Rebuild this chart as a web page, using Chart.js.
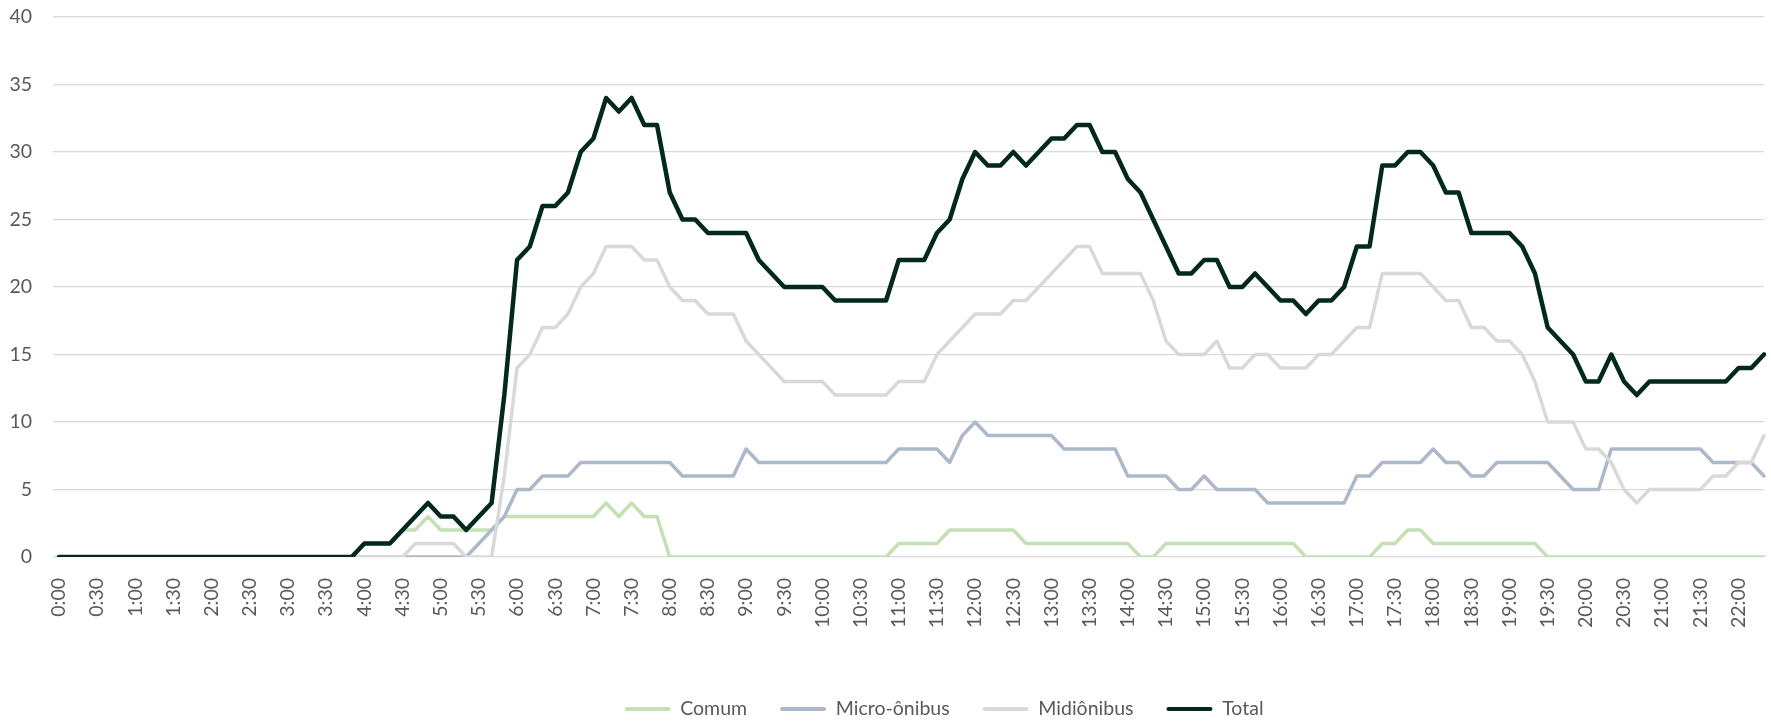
<!DOCTYPE html>
<html>
<head>
<meta charset="utf-8">
<script src="https://cdn.jsdelivr.net/npm/chart.js@4.4.0/dist/chart.umd.min.js"></script>
<style>
  html, body { margin: 0; padding: 0; background: #fff; }
</style>
</head>
<body>
<canvas id="chart" width="1771" height="724"></canvas>
<script>
// categories: every 10 minutes from 0:00 to 22:20, a label shown every 30 minutes
const categories = [];
for (let m = 0; m <= 22 * 60 + 20; m += 10) {
  categories.push(Math.floor(m / 60) + ':' + String(m % 60).padStart(2, '0'));
}
const labelEvery = 3;

const seriesNames = ['Comum', 'Micro-ônibus', 'Midiônibus', 'Total'];

// one row per hour (6 values of 10 minutes)
const comum = [
  0, 0, 0, 0, 0, 0,
  0, 0, 0, 0, 0, 0,
  0, 0, 0, 0, 0, 0,
  0, 0, 0, 0, 0, 0,
  1, 1, 1, 2, 2, 3,
  2, 2, 2, 2, 2, 3,
  3, 3, 3, 3, 3, 3,
  3, 4, 3, 4, 3, 3,
  0, 0, 0, 0, 0, 0,
  0, 0, 0, 0, 0, 0,
  0, 0, 0, 0, 0, 0,
  1, 1, 1, 1, 2, 2,
  2, 2, 2, 2, 1, 1,
  1, 1, 1, 1, 1, 1,
  1, 0, 0, 1, 1, 1,
  1, 1, 1, 1, 1, 1,
  1, 1, 0, 0, 0, 0,
  0, 0, 1, 1, 2, 2,
  1, 1, 1, 1, 1, 1,
  1, 1, 1, 0, 0, 0,
  0, 0, 0, 0, 0, 0,
  0, 0, 0, 0, 0, 0,
  0, 0, 0
];

const micro = [
  0, 0, 0, 0, 0, 0,
  0, 0, 0, 0, 0, 0,
  0, 0, 0, 0, 0, 0,
  0, 0, 0, 0, 0, 0,
  0, 0, 0, 0, 0, 0,
  0, 0, 0, 1, 2, 3,
  5, 5, 6, 6, 6, 7,
  7, 7, 7, 7, 7, 7,
  7, 6, 6, 6, 6, 6,
  8, 7, 7, 7, 7, 7,
  7, 7, 7, 7, 7, 7,
  8, 8, 8, 8, 7, 9,
  10, 9, 9, 9, 9, 9,
  9, 8, 8, 8, 8, 8,
  6, 6, 6, 6, 5, 5,
  6, 5, 5, 5, 5, 4,
  4, 4, 4, 4, 4, 4,
  6, 6, 7, 7, 7, 7,
  8, 7, 7, 6, 6, 7,
  7, 7, 7, 7, 6, 5,
  5, 5, 8, 8, 8, 8,
  8, 8, 8, 8, 7, 7,
  7, 7, 6
];

const midi = [
  0, 0, 0, 0, 0, 0,
  0, 0, 0, 0, 0, 0,
  0, 0, 0, 0, 0, 0,
  0, 0, 0, 0, 0, 0,
  0, 0, 0, 0, 1, 1,
  1, 1, 0, 0, 0, 6,
  14, 15, 17, 17, 18, 20,
  21, 23, 23, 23, 22, 22,
  20, 19, 19, 18, 18, 18,
  16, 15, 14, 13, 13, 13,
  13, 12, 12, 12, 12, 12,
  13, 13, 13, 15, 16, 17,
  18, 18, 18, 19, 19, 20,
  21, 22, 23, 23, 21, 21,
  21, 21, 19, 16, 15, 15,
  15, 16, 14, 14, 15, 15,
  14, 14, 14, 15, 15, 16,
  17, 17, 21, 21, 21, 21,
  20, 19, 19, 17, 17, 16,
  16, 15, 13, 10, 10, 10,
  8, 8, 7, 5, 4, 5,
  5, 5, 5, 5, 6, 6,
  7, 7, 9
];

const total = [
  0, 0, 0, 0, 0, 0,
  0, 0, 0, 0, 0, 0,
  0, 0, 0, 0, 0, 0,
  0, 0, 0, 0, 0, 0,
  1, 1, 1, 2, 3, 4,
  3, 3, 2, 3, 4, 12,
  22, 23, 26, 26, 27, 30,
  31, 34, 33, 34, 32, 32,
  27, 25, 25, 24, 24, 24,
  24, 22, 21, 20, 20, 20,
  20, 19, 19, 19, 19, 19,
  22, 22, 22, 24, 25, 28,
  30, 29, 29, 30, 29, 30,
  31, 31, 32, 32, 30, 30,
  28, 27, 25, 23, 21, 21,
  22, 22, 20, 20, 21, 20,
  19, 19, 18, 19, 19, 20,
  23, 23, 29, 29, 30, 30,
  29, 27, 27, 24, 24, 24,
  24, 23, 21, 17, 16, 15,
  13, 13, 15, 13, 12, 13,
  13, 13, 13, 13, 13, 13,
  14, 14, 15
];

const yTicks = { min: 0, max: 40, step: 5 };

const colors = ['#c5e0b4', '#adb9ca', '#d9d9d9', '#03291f'];
const widths = [3.5, 3.5, 3.5, 4.5];
const values = [comum, micro, midi, total];

Chart.defaults.font.family = 'Lato';
Chart.defaults.font.size = 19.5;
Chart.defaults.color = '#595959';

// move the legend to where the original puts it
const legendShift = {
  id: 'legendShift',
  afterLayout(chart) {
    const lg = chart.legend;
    lg.left += 62; lg.right += 62;
    lg.top += 4.75; lg.bottom += 4.75;
  }
};

new Chart(document.getElementById('chart'), {
  type: 'line',
  data: {
    labels: categories,
    datasets: seriesNames.map((name, i) => ({
      label: name,
      data: values[i],
      borderColor: colors[i],
      backgroundColor: colors[i],
      borderWidth: widths[i],
      pointRadius: 0,
      tension: 0,
      borderJoinStyle: 'round',
      borderCapStyle: 'round',
      order: 3 - i
    }))
  },
  options: {
    responsive: false,
    animation: false,
    devicePixelRatio: 1,
    layout: { padding: { top: 17, right: 7, left: 0, bottom: 0 } },
    plugins: {
      tooltip: { enabled: false },
      legend: {
        position: 'bottom',
        labels: {
          boxWidth: 46,
          boxHeight: 4,
          padding: 33,
          useBorderRadius: true,
          borderRadius: 2,
          sort: (a, b) => a.datasetIndex - b.datasetIndex,
          generateLabels: chart => Chart.defaults.plugins.legend.labels.generateLabels(chart)
            .map(l => ({ ...l, lineWidth: 0 }))
        }
      }
    },
    scales: {
      x: {
        grid: { display: false, drawTicks: false },
        border: { display: false },
        ticks: {
          autoSkip: false,
          minRotation: 90,
          maxRotation: 90,
          padding: 21,
          callback: (v, i) => (i % labelEvery === 0 ? categories[i] : '')
        },
        afterFit: s => {
          s.height = 104.5;
          s.paddingLeft = 0;
          s.paddingRight = 0;
        }
      },
      y: {
        min: yTicks.min,
        max: yTicks.max,
        ticks: { stepSize: yTicks.step, padding: 21 },
        grid: { color: '#d9d9d9', lineWidth: 1.3, tickLength: 6, tickColor: '#d9d9d9' },
        border: { display: false },
        afterFit: s => {
          s.width = 59;
          s.paddingTop = 0;
          s.paddingBottom = 0;
        }
      }
    }
  },
  plugins: [legendShift]
});
</script>
</body>
</html>
